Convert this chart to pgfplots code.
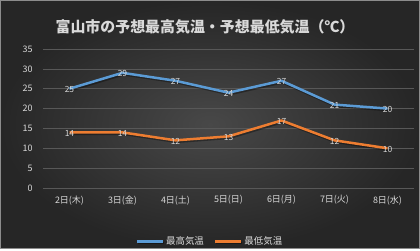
\documentclass[border=0pt]{standalone}
\usepackage{pgfplots}
\pgfplotsset{compat=1.18}
\usepackage{fontspec}
\setmainfont{Noto Sans CJK JP}
\definecolor{hiC}{HTML}{5B9BD5}
\definecolor{loC}{HTML}{ED7D31}
\definecolor{txtC}{HTML}{D9D9D9}
\definecolor{gridC}{HTML}{585858}
\begin{document}
\begin{tikzpicture}[x=1bp,y=1bp]
\shade[inner color={rgb,255:red,72;green,72;blue,72}, outer color={rgb,255:red,38;green,38;blue,38}] (0,0) rectangle (420,249);
\draw[color={rgb,255:red,140;green,140;blue,140}, line width=0.8bp] (0.4,0.4) rectangle (419.6,248.6);
\node[text=txtC, font=\fontsize{15}{17}\selectfont\bfseries] at (205,222) {富山市の予想最高気温・予想最低気温（℃）};
\begin{axis}[
  at={(43bp,61bp)}, anchor=south west,
  scale only axis, width=371bp, height=139bp,
  xmin=-0.5, xmax=6.5, ymin=0, ymax=35,
  xtick={0,...,6},
  xticklabels={2日(木),3日(金),4日(土),5日(日),6日(月),7日(火),8日(水)},
  ytick={0,5,...,35},
  axis line style={draw=none},
  major tick length=0pt,
  ymajorgrids, grid style={gridC, line width=0.6bp},
  tick label style={text=txtC, font=\fontsize{9}{10}\selectfont},
  /pgf/number format/assume math mode=true,
  yticklabel style={xshift=-7bp},
  xticklabel style={yshift=-4bp},
  legend style={at={(0.45,-0.385)}, anchor=center, draw=none, fill=none,
    text=txtC, font=\fontsize{9.5}{11}\selectfont, legend columns=2,
    /tikz/every even column/.append style={column sep=8bp}},
  legend image code/.code={\draw[#1, line width=2.5bp] (0bp,0bp) -- (26bp,0bp);},
  nodes near coords,
  every node near coord/.append style={anchor=center, yshift=-1bp, text=txtC, font=\fontsize{8.5}{9}\selectfont},
]
\addplot[hiC, line width=2.5bp, line join=round, preaction={draw=black, opacity=0.35, line width=2.5bp, transform canvas={shift={(1bp,-1.5bp)}}}] coordinates {(0,25) (1,29) (2,27) (3,24) (4,27) (5,21) (6,20)};
\addplot[loC, line width=2.5bp, line join=round, preaction={draw=black, opacity=0.35, line width=2.5bp, transform canvas={shift={(1bp,-1.5bp)}}}] coordinates {(0,14) (1,14) (2,12) (3,13) (4,17) (5,12) (6,10)};
\legend{最高気温,最低気温}
\end{axis}
\end{tikzpicture}
\end{document}
